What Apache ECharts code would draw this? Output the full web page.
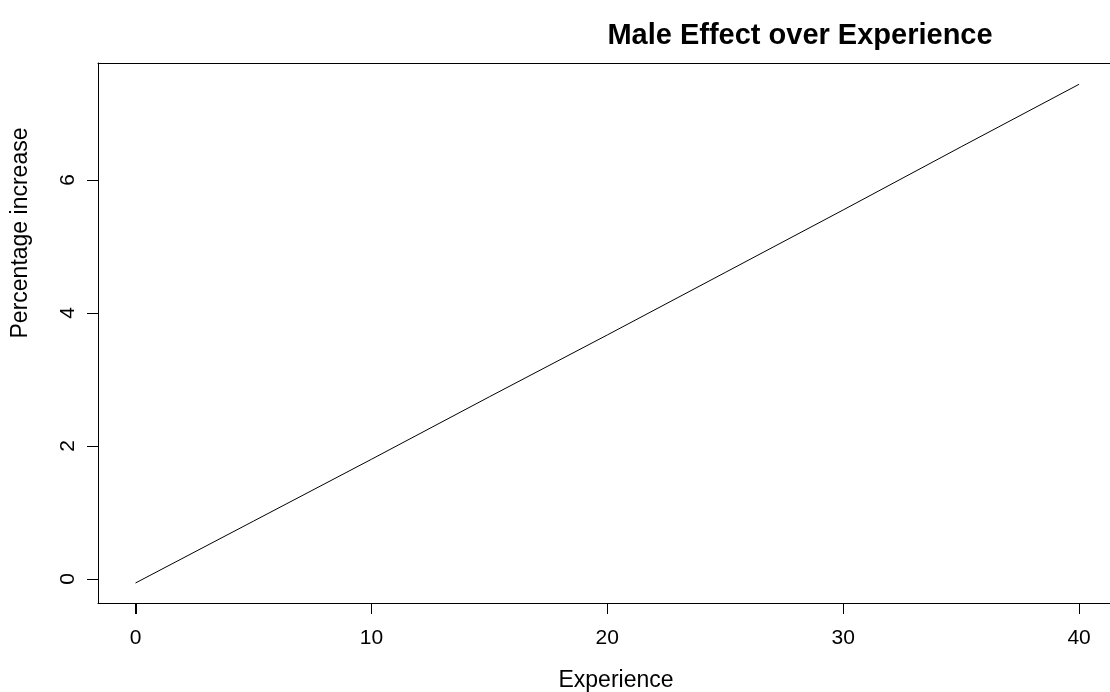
<!DOCTYPE html>
<html>
<head>
<meta charset="utf-8">
<title>Male Effect over Experience</title>
<script src="https://cdn.jsdelivr.net/npm/echarts@6/dist/echarts.min.js"></script>
<style>
  html, body { margin: 0; padding: 0; background: #ffffff; }
  #chart { width: 1110px; height: 692px; }
</style>
</head>
<body>
<div id="chart"></div>
<script>
// Years of experience and the estimated male percentage increase at each
const experience = [0, 5, 10, 15, 20, 25, 30, 35, 40];
const percentIncrease = [-0.06, 0.87, 1.80, 2.74, 3.67, 4.61, 5.55, 6.50, 7.44];

// Tick marks shown on each axis
const xTicks = [0, 10, 20, 30, 40];
const yTicks = [0, 2, 4, 6];

const points = experience.map((x, i) => [x, percentIncrease[i]]);

const FONT = '"Liberation Sans", Arial, Helvetica, sans-serif';
const X_MIN = -1.59;
const X_MAX = 41.31;
const Y_MIN = -0.361;
const Y_MAX = 7.76;
const TICK_LEN = 11;

const chart = echarts.init(document.getElementById('chart'), null, { renderer: 'canvas' });

const plainLine = { show: true, onZero: false, lineStyle: { color: '#000000', width: 1 } };

chart.setOption({
  animation: false,
  backgroundColor: '#ffffff',
  title: {
    text: 'Male Effect over Experience',
    left: 795,
    top: 16,
    textAlign: 'center',
    textStyle: { fontFamily: FONT, fontWeight: 'bold', fontSize: 29, color: '#000000' }
  },
  grid: {
    left: 98,
    top: 63,
    right: 0,
    height: 540,
    containLabel: false,
    outerBoundsMode: 'none',
    show: false
  },
  xAxis: [{
    type: 'value',
    position: 'bottom',
    min: X_MIN,
    max: X_MAX,
    name: 'Experience',
    nameLocation: 'middle',
    nameGap: 66,
    nameTextStyle: { fontFamily: FONT, fontSize: 23, color: '#000000', padding: [0, 0, 0, 24] },
    axisLine: plainLine,
    splitLine: { show: false },
    axisTick: {
      show: true,
      inside: false,
      customValues: xTicks,
      length: TICK_LEN,
      lineStyle: { color: '#000000', width: 1 }
    },
    axisLabel: {
      customValues: xTicks,
      margin: 25,
      fontFamily: FONT,
      fontSize: 21,
      color: '#000000'
    }
  }, {
    // top edge of the plot box
    type: 'value',
    position: 'top',
    min: X_MIN,
    max: X_MAX,
    axisLine: plainLine,
    axisTick: { show: false },
    axisLabel: { show: false },
    splitLine: { show: false }
  }],
  yAxis: {
    type: 'value',
    position: 'left',
    min: Y_MIN,
    max: Y_MAX,
    name: 'Percentage increase',
    nameLocation: 'middle',
    nameGap: 66,
    nameRotate: 90,
    nameTextStyle: {
      fontFamily: FONT,
      fontSize: 23,
      color: '#000000',
      padding: [0, 0, 0, 200]
    },
    axisLine: plainLine,
    splitLine: { show: false },
    axisTick: {
      show: true,
      inside: false,
      customValues: yTicks,
      length: TICK_LEN,
      lineStyle: { color: '#000000', width: 1 }
    },
    axisLabel: {
      customValues: yTicks,
      rotate: 90,
      margin: 19,
      fontFamily: FONT,
      fontSize: 21,
      color: '#000000'
    }
  },
  series: [{
    type: 'line',
    xAxisIndex: 0,
    data: points,
    showSymbol: false,
    smooth: false,
    lineStyle: { color: '#000000', width: 1 },
    emphasis: { disabled: true }
  }, {
    // outward tick marks under the x axis, placed through the axis scale
    type: 'custom',
    xAxisIndex: 0,
    silent: true,
    clip: false,
    data: xTicks.map(v => [v, Y_MIN]),
    renderItem: function (params, api) {
      const p = api.coord([api.value(0), api.value(1)]);
      const x = Math.round(p[0]) + 0.5;
      return {
        type: 'line',
        shape: { x1: x, y1: p[1], x2: x, y2: p[1] + TICK_LEN },
        style: { stroke: '#000000', lineWidth: 1 }
      };
    }
  }]
});
</script>
</body>
</html>
